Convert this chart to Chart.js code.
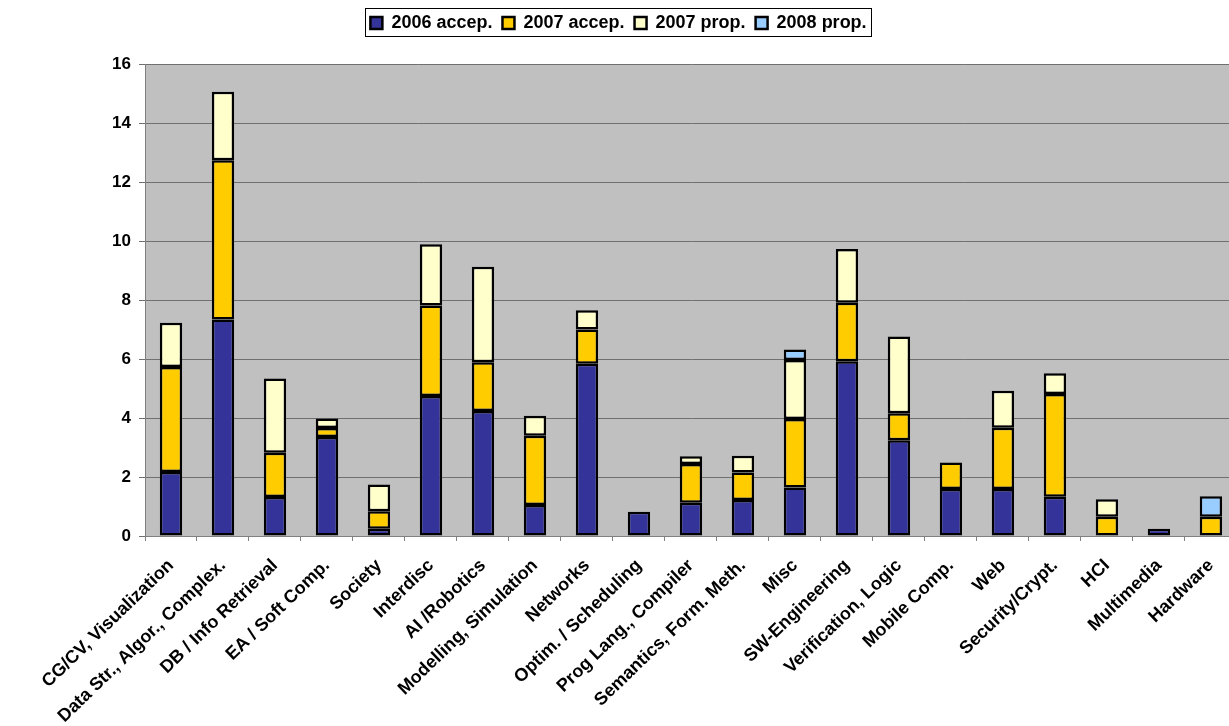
<!DOCTYPE html>
<html>
<head>
<meta charset="utf-8">
<script src="https://cdn.jsdelivr.net/npm/chart.js@4.4.1/dist/chart.umd.min.js"></script>
<style>
  html, body { margin: 0; padding: 0; background: #ffffff; overflow: hidden; }
  #wrap { width: 1240px; height: 726px; }
</style>
</head>
<body>
<div id="wrap"><canvas id="c" width="1240" height="726"></canvas></div>
<script>
const categories = [
  "CG/CV, Visualization", "Data Str., Algor., Complex.", "DB / Info Retrieval", "EA / Soft Comp.",
  "Society", "Interdisc", "AI /Robotics", "Modelling, Simulation", "Networks",
  "Optim. / Scheduling", "Prog Lang., Compiler", "Semantics, Form. Meth.", "Misc",
  "SW-Engineering", "Verification, Logic", "Mobile Comp.", "Web", "Security/Crypt.",
  "HCI", "Multimedia", "Hardware"
];
const accep2006 = [2.17, 7.34, 1.32, 3.36, 0.25, 4.75, 4.24, 1.05, 5.84, 0.82, 1.13, 1.22, 1.64, 5.92, 3.25, 1.59, 1.59, 1.33, null, 0.25, null];
const accep2007 = [3.56, 5.40, 1.50, 0.30, 0.59, 3.06, 1.65, 2.35, 1.16, null, 1.31, 0.93, 2.33, 1.99, 0.91, 0.90, 2.08, 3.48, 0.65, null, 0.65];
const prop2007  = [1.50, 2.32, 2.52, 0.32, 0.91, 2.08, 3.24, 0.68, 0.65, null, 0.26, 0.57, 2.00, 1.82, 2.60, null, 1.25, 0.71, 0.60, null, null];
const prop2008  = [null, null, null, null, null, null, null, null, null, null, null, null, 0.35, null, null, null, null, null, null, null, 0.70];
const seriesNames = ["2006 accep.", "2007 accep.", "2007 prop.", "2008 prop."];
const yTicks = [0, 2, 4, 6, 8, 10, 12, 14, 16];

const FONT = "'Liberation Sans', Arial, sans-serif";

const bgPlugin = {
  id: 'plotBg',
  beforeDraw(chart) {
    const a = chart.chartArea, ctx = chart.ctx;
    ctx.save();
    ctx.fillStyle = '#c0c0c0';
    ctx.fillRect(a.left, a.top, a.right - a.left, a.bottom - a.top);
    ctx.restore();
  }
};

const legendFrame = {
  id: 'legendFrame',
  afterDraw(chart) {
    const lg = chart.legend;
    if (!lg || !lg.legendHitBoxes || !lg.legendHitBoxes.length) return;
    let minX = Infinity, maxX = -Infinity, minY = Infinity, maxY = -Infinity;
    lg.legendHitBoxes.forEach(h => {
      minX = Math.min(minX, h.left); maxX = Math.max(maxX, h.left + h.width);
      minY = Math.min(minY, h.top); maxY = Math.max(maxY, h.top + h.height);
    });
    const ctx = chart.ctx;
    ctx.save();
    ctx.strokeStyle = '#000000';
    ctx.lineWidth = 1;
    ctx.strokeRect(Math.round(minX - 5) + 0.5, Math.round(minY - 6) + 0.5, Math.round(maxX - minX + 10), Math.round(maxY - minY + 10));
    ctx.restore();
  }
};

const legendSpace = {
  id: 'legendSpace',
  beforeInit(chart) {
    const lg = chart.legend;
    if (!lg) return;
    const origFit = lg.fit;
    lg.fit = function () {
      origFit.call(this);
      this.height = 60;
    };
  }
};

const colors = ['#333399', '#ffcc00', '#ffffcc', '#99ccff'];
const dataSets = [accep2006, accep2007, prop2007, prop2008];

new Chart(document.getElementById('c'), {
  type: 'bar',
  data: {
    labels: categories,
    datasets: dataSets.map((d, i) => ({
      label: seriesNames[i],
      data: d,
      backgroundColor: colors[i],
      borderColor: '#000000',
      borderWidth: 2.5,
      borderSkipped: false,
      barPercentage: 0.86,
      categoryPercentage: 0.5
    }))
  },
  options: {
    responsive: false,
    animation: false,
    layout: { padding: { top: 4, right: 3, left: 0, bottom: 0 } },
    plugins: {
      legend: {
        position: 'top',
        labels: {
          color: '#000000',
          boxWidth: 12,
          boxHeight: 12,
          padding: 10,
          font: { family: FONT, size: 18, weight: 'bold' }
        }
      },
      tooltip: { enabled: false }
    },
    scales: {
      x: {
        stacked: true,
        grid: { display: true, drawOnChartArea: false, drawTicks: true, tickLength: 5, color: '#808080', offset: true },
        border: { display: true, color: '#808080', width: 1 },
        ticks: {
          autoSkip: false, maxRotation: 44, minRotation: 44, padding: 14,
          color: '#000000',
          font: { family: FONT, size: 18, weight: 'bold' }
        },
        afterFit(scale) { scale.height = 190; }
      },
      y: {
        stacked: true,
        min: 0, max: 16,
        afterBuildTicks(scale) { scale.ticks = yTicks.map(v => ({ value: v })); },
        grid: { color: '#707070', lineWidth: 1, tickLength: 6, drawTicks: true },
        border: { display: true, color: '#808080', width: 1 },
        ticks: {
          padding: 8,
          color: '#000000',
          font: { family: FONT, size: 17, weight: 'bold' }
        },
        afterFit(scale) { scale.width = 145; }
      }
    }
  },
  plugins: [bgPlugin, legendSpace, legendFrame]
});
</script>
</body>
</html>
